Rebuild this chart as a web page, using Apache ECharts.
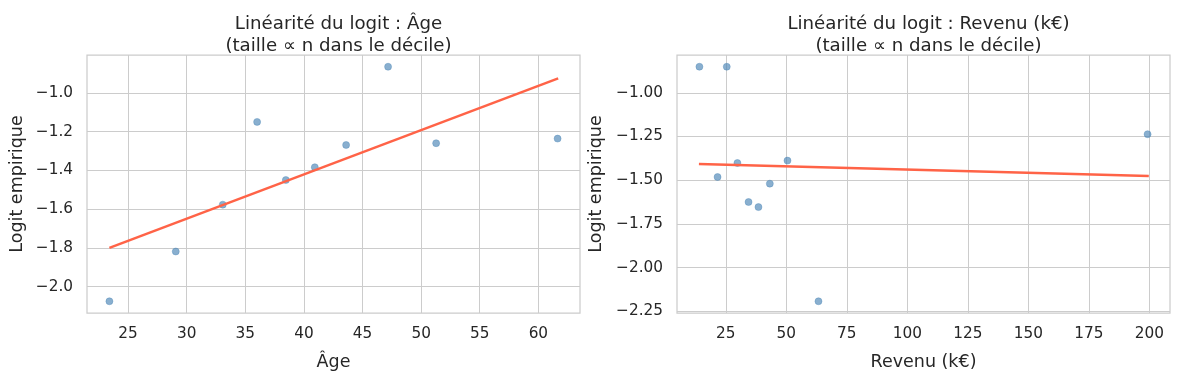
<!DOCTYPE html>
<html>
<head>
<meta charset="utf-8">
<script src="https://cdn.jsdelivr.net/npm/echarts@6/dist/echarts.min.js"></script>
<style>
html,body{margin:0;padding:0;background:#fff;}
#c{width:1180px;height:380px;}
</style>
</head>
<body>
<div id="c"></div>
<script>
// ---- data ----
const ageX = [23.41, 29.07, 33.08, 36.01, 38.46, 40.93, 43.60, 47.18, 51.28, 61.64];
const ageY = [-2.076, -1.819, -1.577, -1.150, -1.450, -1.384, -1.269, -0.865, -1.260, -1.236];
const ageFitX = [23.41, 61.69];
const ageFitY = [-1.800, -0.9255];
const revX = [14.1, 25.4, 21.6, 29.8, 34.4, 38.5, 43.2, 50.5, 63.3, 199.3];
const revY = [-0.851, -0.851, -1.482, -1.402, -1.625, -1.654, -1.520, -1.388, -2.193, -1.237];
const revFitX = [13.9, 199.8];
const revFitY = [-1.407, -1.476];
const ageXTicks = [25, 30, 35, 40, 45, 50, 55, 60];
const ageYTicks = [-2.0, -1.8, -1.6, -1.4, -1.2, -1.0];
const revXTicks = [25, 50, 75, 100, 125, 150, 175, 200];
const revYTicks = [-2.25, -2.0, -1.75, -1.5, -1.25, -1.0];
const titles = ['Linéarité du logit : Âge\n(taille ∝ n dans le décile)',
                'Linéarité du logit : Revenu (k€)\n(taille ∝ n dans le décile)'];
const xNames = ['Âge', 'Revenu (k€)'];
const yName = 'Logit empirique';

function pad(arr) {
  const mn = Math.min(...arr), mx = Math.max(...arr), r = mx - mn;
  return [mn - 0.05 * r, mx + 0.05 * r];
}
const zip = (a, b) => a.map((v, i) => [v, b[i]]);
const minus = s => s.replace('-', '\u2212');

const TXT = '#262626', GRID = '#cccccc', FONT = 'DejaVu Sans';
const TICK_FS = 15.3, LAB_FS = 17.5, TITLE_FS = 18.2;
const ageXR = pad(ageX), ageYR = pad(ageY), revXR = pad(revX), revYR = pad(revY);

function xAxis(idx, range, ticks, name) {
  return {
    type: 'value', gridIndex: idx, min: range[0], max: range[1],
    name: name, nameLocation: 'middle', nameGap: 40,
    nameTextStyle: {color: TXT, fontSize: LAB_FS, fontFamily: FONT},
    axisLine: {show: false},
    axisTick: {show: false, customValues: ticks},
    axisLabel: {customValues: ticks, color: TXT, fontSize: TICK_FS, fontFamily: FONT, margin: 14,
                formatter: v => minus(String(v))},
    splitLine: {show: true, lineStyle: {color: GRID, width: 1}}
  };
}
function yAxis(idx, range, ticks, dec, gap) {
  return {
    type: 'value', gridIndex: idx, min: range[0], max: range[1],
    name: yName, nameLocation: 'middle', nameGap: gap, nameRotate: 90,
    nameTextStyle: {color: TXT, fontSize: LAB_FS, fontFamily: FONT},
    axisLine: {show: false},
    axisTick: {show: false, customValues: ticks},
    axisLabel: {customValues: ticks, color: TXT, fontSize: TICK_FS, fontFamily: FONT, margin: 14,
                formatter: v => minus(v.toFixed(dec))},
    splitLine: {show: true, lineStyle: {color: GRID, width: 1}}
  };
}

const chart = echarts.init(document.getElementById('c'), null, {renderer: 'canvas'});
const titleStyle = {color: TXT, fontSize: TITLE_FS, fontWeight: 'normal', fontFamily: FONT, lineHeight: 22};
chart.setOption({
  animation: false,
  backgroundColor: '#ffffff',
  title: [
    {text: titles[0], left: 333.5, top: 8, textAlign: 'center', textStyle: titleStyle},
    {text: titles[1], left: 923.5, top: 8, textAlign: 'center', textStyle: titleStyle}
  ],
  grid: [
    {left: 87, top: 55, width: 493, height: 258, show: true, borderColor: GRID, borderWidth: 1.25, backgroundColor: '#fff'},
    {left: 677, top: 55, width: 493, height: 258, show: true, borderColor: GRID, borderWidth: 1.25, backgroundColor: '#fff'}
  ],
  xAxis: [xAxis(0, ageXR, ageXTicks, xNames[0]), xAxis(1, revXR, revXTicks, xNames[1])],
  yAxis: [yAxis(0, ageYR, ageYTicks, 1, 61), yAxis(1, revYR, revYTicks, 2, 72)],
  series: [
    {type: 'scatter', xAxisIndex: 0, yAxisIndex: 0, data: zip(ageX, ageY), symbolSize: 7,
     itemStyle: {color: 'rgba(70,130,180,0.8)', borderColor: 'rgba(70,130,180,0.9)', borderWidth: 0.5}, z: 3},
    {type: 'line', xAxisIndex: 0, yAxisIndex: 0, data: zip(ageFitX, ageFitY), showSymbol: false,
     lineStyle: {color: '#ff6347', width: 2.5}, z: 4},
    {type: 'scatter', xAxisIndex: 1, yAxisIndex: 1, data: zip(revX, revY), symbolSize: 7,
     itemStyle: {color: 'rgba(70,130,180,0.8)', borderColor: 'rgba(70,130,180,0.9)', borderWidth: 0.5}, z: 3},
    {type: 'line', xAxisIndex: 1, yAxisIndex: 1, data: zip(revFitX, revFitY), showSymbol: false,
     lineStyle: {color: '#ff6347', width: 2.5}, z: 4}
  ]
});
</script>
</body>
</html>
